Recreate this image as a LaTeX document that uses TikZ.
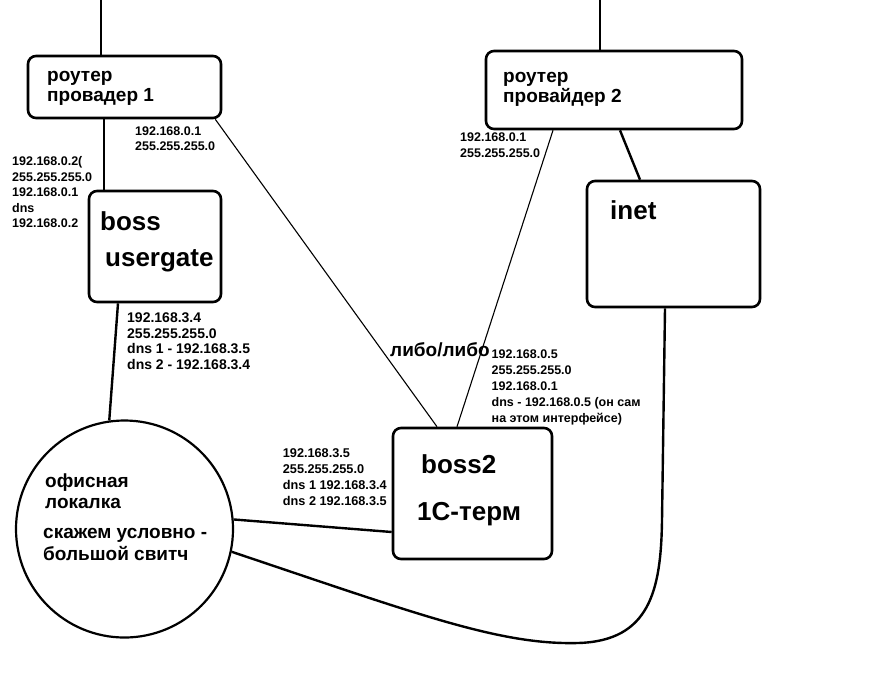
\documentclass[tikz,border=0pt]{standalone}
\usepackage{fontspec}
\setmainfont{Liberation Sans}
\usetikzlibrary{positioning}

\tikzset{
  box/.style={draw, line width=2.6pt, rounded corners=8pt, inner sep=0pt},
  wire/.style={line width=2.4pt},
  thinwire/.style={line width=1.1pt},
  smalltxt/.style={anchor=north west, inner sep=0pt, align=left, font=\bfseries\fontsize{12.5}{15.5}\selectfont},
  midtxt/.style={anchor=base west, inner sep=0pt, font=\bfseries\fontsize{19}{20}\selectfont},
  bigtxt/.style={anchor=base west, inner sep=0pt, font=\bfseries\fontsize{26}{30}\selectfont},
}

\begin{document}
\begin{tikzpicture}[x=1pt, y=-1pt] % one unit = one pixel of the sketch, y runs down

  \useasboundingbox (0,0) rectangle (877,697);

  % boxes and the switch
  \node[box, minimum width=193pt, minimum height=62pt] (prov1) at (124.5,87) {};
  \node[box, minimum width=132pt, minimum height=111pt] (usergate) at (155,246.5) {};
  \node[box, minimum width=256pt, minimum height=78pt] (prov2) at (614,90) {};
  \node[box, minimum width=173pt, minimum height=126pt] (inet) at (673.5,244) {};
  \node[box, minimum width=159pt, minimum height=131pt] (boss2) at (472.5,493.5) {};
  \node[draw, circle, line width=2.2pt, minimum size=217pt, inner sep=0pt] (lan) at (124.5,529) {};

  % uplinks
  \coordinate (up1) at (101,0);
  \coordinate (up2) at (600,0);
  \draw[wire] (up1) -- (up1 |- prov1.north);
  \draw[wire] (up2) -- (up2 |- prov2.north);

  % links
  \draw[wire] ([xshift=-20.5pt]prov1.south) -- ([xshift=-51pt]usergate.north);
  \draw[wire] ([xshift=-37pt]usergate.south) -- (lan.98);
  \draw[thinwire] ([xshift=-7pt]prov1.south east) -- ([xshift=-35.5pt]boss2.north);
  \draw[thinwire] ([xshift=-61pt]prov2.south) -- ([xshift=-15.5pt]boss2.north);
  \draw[wire] ([xshift=6pt]prov2.south) -- ([xshift=-33.5pt]inet.north);
  \draw[wire] (lan.5) -- ([yshift=-38.5pt]boss2.west);
  \draw[wire] (lan.-12) .. controls (420,615) and (500,645) .. (578,643)
    .. controls (650,641) and (661,590) .. (662,520) -- ([xshift=-8.5pt]inet.south);

  % box labels
  \node[midtxt] (p1a) at (47,81) {роутер};
  \node[midtxt] (p1b) at (47,101) {провадер 1};
  \node[midtxt] (p2a) at (503,82) {роутер};
  \node[midtxt] (p2b) at (503,102) {провайдер 2};
  \node[bigtxt] (ugA) at (100,230) {boss};
  \node[bigtxt] (ugB) at (105,266.5) {usergate};
  \node[bigtxt] (inetT) at (610,219) {inet};
  \node[bigtxt] (b2A) at (421,473) {boss2};
  \node[bigtxt] (b2B) at (417,520) {1С-терм};
  \node[midtxt] (either) at (390,356) {либо/либо};

  % switch labels
  \node[midtxt] (lanA) at (45,487) {офисная};
  \node[midtxt] (lanB) at (45,508) {локалка};
  \node[midtxt] (lanC) at (43,538) {скажем условно -};
  \node[midtxt] (lanD) at (43,560) {большой свитч};

  % addresses
  \node[smalltxt] (ipA) at (135,126.5) {192.168.0.1\\255.255.255.0};
  \node[smalltxt] (ipB) at (12,156.5) {192.168.0.2(\\255.255.255.0\\192.168.0.1\\dns\\192.168.0.2};
  \node[smalltxt, font=\bfseries\fontsize{14}{15.5}\selectfont] (ipC) at (127,312.7)
    {192.168.3.4\\255.255.255.0\\dns 1 - 192.168.3.5\\dns 2 - 192.168.3.4};
  \node[smalltxt] (ipD) at (460,133) {192.168.0.1\\255.255.255.0};
  \node[smalltxt, font=\bfseries\fontsize{12.5}{16}\selectfont] (ipE) at (491.5,350)
    {192.168.0.5\\255.255.255.0\\192.168.0.1\\dns - 192.168.0.5 (он сам\\на этом интерфейсе)};
  \node[smalltxt, font=\bfseries\fontsize{12.7}{16}\selectfont] (ipF) at (282.7,448)
    {192.168.3.5\\255.255.255.0\\dns 1 192.168.3.4\\dns 2 192.168.3.5};

\end{tikzpicture}
\end{document}
